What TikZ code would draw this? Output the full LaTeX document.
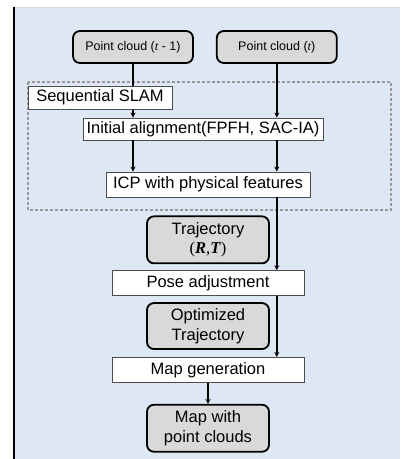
\documentclass[tikz,border=0pt]{standalone}
\usepackage{fontspec}
\setmainfont{Liberation Sans}
\newfontfamily\serifrm{Liberation Serif}
\usetikzlibrary{positioning, arrows.meta}

\definecolor{panelblue}{HTML}{DDE8F4}
\definecolor{boxgray}{HTML}{D9D9D9}

\begin{document}
\begin{tikzpicture}[
    x=1pt, y=1pt,
    font=\fontsize{16.5}{19.5}\selectfont,
    cloud_box/.style={rectangle, draw=black, fill=boxgray, line width=1.8pt, rounded corners=7pt, align=center, inner sep=0pt, minimum width=120pt, minimum height=32pt, font=\fontsize{12.5}{15}\selectfont},
    data_box/.style={rectangle, draw=black, fill=boxgray, line width=1.8pt, rounded corners=7pt, align=center, inner sep=0pt, minimum width=122pt, minimum height=47pt},
    proc_box/.style={rectangle, draw=black!70, fill=white, line width=0.9pt, align=center, inner sep=0pt, minimum height=24pt},
    arrow/.style={draw=black, line width=1.4pt, -{Stealth[length=5pt, width=5pt]}}
]

\useasboundingbox (0,0) rectangle (400,459);

% Background panel
\fill[panelblue] (13,0) rectangle (400,452);
\draw[black!15, line width=0.8pt] (13,452) -- (400,452);
\draw[black, line width=2.5pt] (14,0) -- (14,452);

% Sequential SLAM frame
\draw[black!40, dashed, line width=1.2pt, dash pattern=on 3pt off 2pt] (28,377) rectangle (391,249);

% Inputs
\node[cloud_box] (pc1) at (133,412) {Point cloud ({\serifrm\itshape t} - 1)};
\node[cloud_box, right=22pt of pc1] (pc2) {Point cloud ({\serifrm\itshape t})};

% Registration
\node[proc_box, minimum width=240pt, minimum height=22pt] (init) at (203,330) {Initial alignment(FPFH, SAC-IA)};
\node[proc_box, minimum width=204pt, minimum height=25pt] (icp) at (208,274.5) {ICP with physical features};

% Outputs
\node[data_box, below=18pt of icp] (traj) {Trajectory\\{\serifrm(\textbf{\textit{R}},\textbf{\textit{T}})}};
\node[proc_box, minimum width=192pt, minimum height=25pt, below=6pt of traj] (pose) {Pose adjustment};
\node[data_box, minimum height=46pt, below=6pt of pose] (opt) {Optimized\\Trajectory};
\node[proc_box, minimum width=192pt, minimum height=25pt, below=7pt of opt] (mapgen) {Map generation};
\node[data_box, below=21pt of mapgen] (mapout) {Map with\\point clouds};

% Connections
\draw[arrow] (pc1.south) -- (pc1.south |- init.north);
\draw[arrow] (pc2.south) -- (pc2.south |- init.north);
\draw[arrow] (pc1.south |- init.south) -- (pc1.south |- icp.north);
\draw[arrow] (pc2.south |- init.south) -- (pc2.south |- icp.north);
\draw[arrow] (pc2.south |- icp.south) -- (pc2.south |- pose.north);
\draw[arrow] (pc2.south |- pose.south) -- (pc2.south |- mapgen.north);
\draw[arrow] (mapgen.south) -- (mapout.north);

% Frame label (over the line)
\node[proc_box, minimum width=144pt, minimum height=23pt] (slam) at (100,361.5) {Sequential SLAM};

\end{tikzpicture}
\end{document}
